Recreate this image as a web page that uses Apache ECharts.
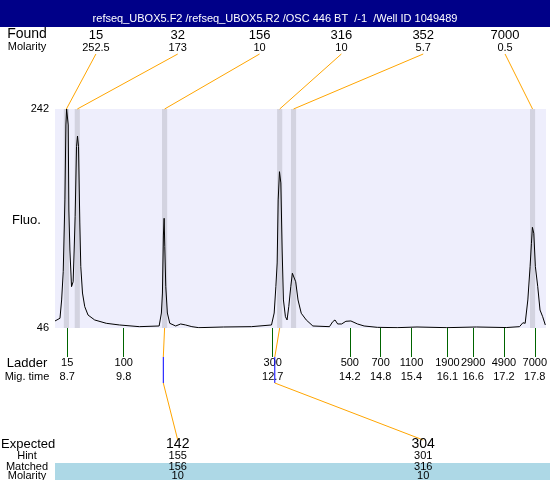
<!DOCTYPE html>
<html><head><meta charset="utf-8">
<script src="https://cdn.jsdelivr.net/npm/echarts@6/dist/echarts.min.js"></script>
<style>html,body{margin:0;padding:0;background:#fff}#c{width:550px;height:480px}</style>
</head><body><div id="c"></div>
<script>
const titleText = 'refseq_UBOX5.F2 /refseq_UBOX5.R2 /OSC 446 BT  /-1  /Well ID 1049489';
const foundSizes = [15, 32, 156, 316, 352, 7000];
const foundMolarity = ['252.5', '173', '10', '10', '5.7', '0.5'];
const foundTimes = [8.684, 8.896, 10.595, 12.835, 13.105, 17.757];
const ladderSizes = [15, 100, 300, 500, 700, 1100, 1900, 2900, 4900, 7000];
const ladderTimes = [8.7, 9.8, 12.7, 14.2, 14.8, 15.4, 16.1, 16.6, 17.2, 17.8];
const expectedSizes = [142, 304];
const hintSizes = [155, 301];
const hintTimes = [10.57, 12.74];
const matchedSizes = [156, 316];
const matchedTimes = [10.595, 12.835];
const expectedMolarity = ['10', '10'];
const yTickValues = [46, 242];
const traceTime = [8.462,8.559,8.591,8.622,8.655,8.674,8.688,8.719,8.732,8.752,8.784,8.815,8.835,8.854,8.881,8.900,8.920,8.945,8.964,8.997,9.041,9.105,9.234,9.460,9.717,10.103,10.489,10.533,10.553,10.572,10.586,10.599,10.618,10.649,10.696,10.811,10.908,11.004,11.126,11.261,11.744,12.284,12.676,12.728,12.761,12.786,12.806,12.831,12.858,12.883,12.908,12.947,12.979,13.012,13.051,13.082,13.115,13.147,13.192,13.255,13.352,13.481,13.804,13.867,13.912,13.964,14.041,14.124,14.221,14.350,14.479,14.736,15.122,15.508,16.087,16.666,17.245,17.503,17.569,17.613,17.665,17.709,17.735,17.754,17.781,17.812,17.858,17.902,17.954,18.005];
const traceFluo = [52.3,54.7,71.1,96.4,160.6,227.7,242,227.7,151.6,115.8,83.0,87.4,115.8,145.6,208.3,217.8,208.3,140.0,100.9,77.3,65.1,57.6,53.2,50.2,48.7,47.2,47.8,59.4,77.3,129.2,144.2,118.8,83.0,59.4,50.2,47.8,49.6,48.7,47.2,46.3,46.9,47.2,48.7,59.4,83.0,104.2,160.6,185.9,175.8,115.8,71.1,56.1,53.2,65.1,83.0,95.0,96.4,87.4,71.1,59.2,53.2,47.8,47.2,51.6,53.2,49.6,49.6,52.0,52.3,49.6,47.8,46.6,46.3,46.9,46.3,46.9,46.4,47.2,50.7,50.2,71.1,100.9,121.8,136.1,130.8,100.9,83.0,62.1,56.1,48.7];

const yMin = 46, yMax = 242, xMin = 8.462, xMax = 18.018;
const FF = '"Liberation Sans", Arial, sans-serif';
const expectedSlots = [1, 4];
const bandHalf = 0.05;

const chart = echarts.init(document.getElementById('c'), null, {renderer: 'canvas'});

function renderBand(params, api) {
  const t = api.value(0);
  const a = api.coord([t - bandHalf, yMax]);
  const b = api.coord([t + bandHalf, yMin]);
  return {type: 'rect', shape: {x: a[0], y: a[1], width: b[0] - a[0], height: b[1] - a[1]}, style: {fill: '#D3D3E0'}};
}
function renderFound(params, api) {
  const cs = params.coordSys;
  const i = params.dataIndex;
  const t = api.value(0);
  const lx = cs.x + (i + 0.5) * cs.width / foundSizes.length;
  const top = api.coord([t, yMax]);
  return {type: 'group', children: [
    {type: 'line', shape: {x1: lx, y1: cs.y - 55, x2: top[0], y2: top[1]}, style: {stroke: '#FFA500', lineWidth: 1}},
    {type: 'text', style: {text: String(foundSizes[i]), x: lx, y: cs.y - 74, align: 'center', verticalAlign: 'middle', font: '13px ' + FF, fill: '#000'}},
    {type: 'text', style: {text: foundMolarity[i], x: lx, y: cs.y - 61, align: 'center', verticalAlign: 'middle', font: '11px ' + FF, fill: '#000'}}
  ]};
}
function renderExpected(params, api) {
  const cs = params.coordSys;
  const i = params.dataIndex;
  const p0 = api.coord([matchedTimes[i], yMin]);
  const hx = api.coord([hintTimes[i], yMin])[0];
  const yb = cs.y + cs.height;
  const p1 = [hx, yb + 29], p2 = [hx, yb + 55];
  const lx = cs.x + (expectedSlots[i] + 0.5) * cs.width / 6;
  const p3 = [lx, yb + 112];
  const txt = (s, y, size) => ({type: 'text', style: {text: String(s), x: lx, y: y, align: 'center', verticalAlign: 'middle', font: size + 'px ' + FF, fill: '#000'}});
  return {type: 'group', children: [
    {type: 'polyline', shape: {points: [p0, p1]}, style: {stroke: '#FFA500', lineWidth: 1, fill: null}},
    {type: 'polyline', shape: {points: [p1, p2]}, style: {stroke: '#0000FF', lineWidth: 1, fill: null}},
    {type: 'polyline', shape: {points: [p2, p3]}, style: {stroke: '#FFA500', lineWidth: 1, fill: null}},
    txt(expectedSizes[i], yb + 116, 14),
    txt(hintSizes[i], yb + 128, 11),
    txt(matchedSizes[i], yb + 139, 11),
    txt(expectedMolarity[i], yb + 148, 11)
  ]};
}

const leftLabel = (text, x, y, size, align) => ({type: 'text', x: x, y: y, style: {text: text, font: size + 'px ' + FF, fill: '#000', align: align || 'center', verticalAlign: 'middle'}});

chart.setOption({
  animation: false,
  title: {text: titleText, left: 'center', top: 7, textStyle: {color: '#fff', fontSize: 11, fontWeight: 'normal', fontFamily: FF, lineHeight: 13}},
  grid: {left: 55, right: 0, top: 109, bottom: 152, show: true, backgroundColor: '#EEEEFC', borderWidth: 0},
  xAxis: {type: 'value', min: xMin, max: xMax,
    axisLine: {show: false}, splitLine: {show: false},
    axisTick: {show: true, customValues: ladderTimes, length: 29, lineStyle: {color: '#006400', width: 1}},
    axisLabel: {show: true, customValues: ladderTimes, margin: 28, fontSize: 11, fontFamily: FF, color: '#000', lineHeight: 14,
      formatter: v => { const i = ladderTimes.findIndex(t => Math.abs(t - v) < 1e-6); return i < 0 ? '' : ladderSizes[i] + '\n' + ladderTimes[i]; }}},
  yAxis: {type: 'value', min: yMin, max: yMax,
    axisLine: {show: false}, axisTick: {show: false}, splitLine: {show: false},
    axisLabel: {show: true, customValues: yTickValues, fontSize: 11, fontFamily: FF, color: '#000', margin: 6}},
  graphic: [
    {type: 'rect', shape: {x: 0, y: 0, width: 550, height: 27}, style: {fill: '#000088'}, z: -10},
    {type: 'rect', shape: {x: 55, y: 463, width: 495, height: 17}, style: {fill: '#ADD8E6'}, z: -10},
    leftLabel('Found', 27, 34, 14),
    leftLabel('Molarity', 27, 47, 11),
    leftLabel('Fluo.', 12, 220, 13, 'left'),
    leftLabel('Ladder', 27, 363, 13),
    leftLabel('Mig. time', 27, 377, 11),
    leftLabel('Expected', 1, 444, 13, 'left'),
    leftLabel('Hint', 27, 456, 11),
    leftLabel('Matched', 27, 467, 11),
    leftLabel('Molarity', 27, 476, 11)
  ],
  series: [
    {type: 'custom', name: 'bands', z: 1, renderItem: renderBand, data: foundTimes.map(t => [t, yMax]), silent: true},
    {type: 'line', name: 'trace', z: 3, showSymbol: false, symbol: 'none', lineStyle: {color: '#000', width: 1, join: 'bevel'}, data: traceTime.map((t, i) => [t, traceFluo[i]])},
    {type: 'custom', name: 'found', z: 4, clip: false, renderItem: renderFound, data: foundTimes.map(t => [t, yMax]), silent: true},
    {type: 'custom', name: 'expected', z: 5, clip: false, renderItem: renderExpected, data: matchedTimes.map(t => [t, yMin]), silent: true}
  ]
});
</script></body></html>
